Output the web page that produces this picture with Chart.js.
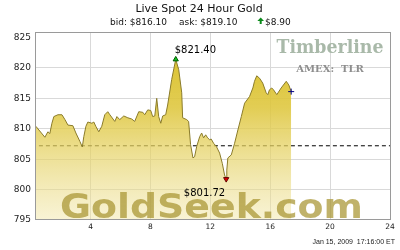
<!DOCTYPE html>
<html>
<head>
<meta charset="utf-8">
<title>Live Spot 24 Hour Gold</title>
<script src="https://cdn.jsdelivr.net/npm/chart.js@4/dist/chart.umd.min.js"></script>
<style>
    html, body { margin: 0; padding: 0; background: #fff; }
    #wrap { width: 400px; height: 250px; }
</style>
</head>
<body>
<div id="wrap"><canvas id="goldChart"></canvas></div>
<script>
// hours (ET) and spot price
var hours = [0.35, 0.95, 1.15, 1.28, 1.42, 1.55, 1.82, 2.09, 2.29, 2.49, 2.82, 3.02, 3.29, 3.45, 3.55,
    3.69, 3.82, 4.09, 4.22, 4.35, 4.55, 4.75, 4.95, 5.15, 5.29, 5.62, 5.76, 5.95, 6.22, 6.49, 6.75,
    6.95, 7.22, 7.49, 7.62, 7.82, 8.02, 8.15, 8.29, 8.42, 8.55, 8.69, 8.82, 9.02, 9.15, 9.42, 9.69,
    9.89, 10.09, 10.15, 10.42, 10.55, 10.68, 10.84, 10.95, 11.09, 11.29, 11.42, 11.55, 11.69, 11.82,
    11.95, 12.06, 12.22, 12.4, 12.62, 12.8, 12.95, 13.06, 13.1, 13.17, 13.4, 13.62, 13.84, 14.07,
    14.29, 14.62, 14.84, 14.95, 15.1, 15.29, 15.5, 15.73, 15.84, 15.95, 16.1, 16.22, 16.44, 16.73,
    17.07, 17.24, 17.4];
var prices = [810.4, 808.6, 809.5, 809.2, 810.9, 812.0, 812.3, 812.3, 811.5, 810.6, 810.5, 809.3, 807.9, 807.0, 808.7,
    810.4, 811.1, 810.9, 811.1, 810.4, 809.5, 810.4, 812.3, 812.8, 812.3, 811.2, 812.0, 811.5, 812.1, 811.8, 811.6,
    811.2, 812.8, 812.7, 812.3, 813.1, 813.0, 812.0, 812.1, 815.0, 812.0, 810.9, 812.1, 812.3, 813.9, 818.1, 821.4,
    819.7, 815.9, 811.8, 811.5, 811.2, 807.4, 805.2, 805.4, 807.1, 808.7, 809.3, 808.5, 809.0, 808.5,
    808.2, 808.3, 807.6, 807.1, 806.0, 804.3, 802.4, 801.72, 803.2, 805.2, 805.7, 807.6, 809.8, 812.0,
    814.2, 815.3, 816.7, 817.8, 818.7, 818.3, 817.5, 815.9, 815.6, 816.4, 816.7, 816.4, 815.6, 816.7,
    817.8, 817.2, 816.1];
var xTicks = [4, 8, 12, 16, 20, 24];
var yTicks = [795, 800, 805, 810, 815, 820, 825];
var prevClose = 807.2;
var bid = '$816.10';
var ask = '$819.10';
var change = '$8.90';
var stamp = 'Jan 15, 2009  17:16:00 ET';

var peakIdx = prices.indexOf(Math.max.apply(null, prices));
var lowIdx = prices.indexOf(Math.min.apply(null, prices));
var lastIdx = prices.length - 1;

var points = hours.map(function (h, i) { return { x: h, y: prices[i] }; });

function areaFill(context) {
    var area = context.chart.chartArea;
    if (!area) return 'rgba(220,196,50,0.8)';
    var g = context.chart.ctx.createLinearGradient(0, area.top, 0, area.bottom);
    g.addColorStop(0, 'rgba(214,186,20,0.95)');
    g.addColorStop(0.4, 'rgba(222,198,60,0.88)');
    g.addColorStop(1, 'rgba(240,228,160,0.45)');
    return g;
}

var extras = {
    id: 'goldExtras',
    afterDatasetsDraw: function (chart) {
        var ctx = chart.ctx;
        var a = chart.chartArea;
        var xs = chart.scales.x, ys = chart.scales.y;
        ctx.save();

        // watermarks
        ctx.textAlign = 'center';
        ctx.textBaseline = 'middle';
        ctx.fillStyle = '#a9b9a9';
        ctx.font = "bold 19px 'DejaVu Serif'";
        ctx.fillText('Timberline', 330, 48, 107);
        ctx.fillStyle = '#8e8e8e';
        ctx.font = "bold 10px 'DejaVu Serif'";
        ctx.fillText('AMEX:  TLR', 330, 69, 74);

        ctx.font = "bold 34px 'DejaVu Sans'";
        var w = ctx.measureText('GoldSeek.com').width;
        ctx.translate(60, 218);
        ctx.scale(303 / w, 1);
        ctx.textAlign = 'left';
        ctx.textBaseline = 'alphabetic';
        ctx.fillStyle = 'rgba(168,148,48,0.72)';
        ctx.fillText('GoldSeek.com', 0, 0);
        ctx.setTransform(1, 0, 0, 1, 0, 0);

        // plot frame
        ctx.strokeStyle = '#9a9a9a';
        ctx.lineWidth = 1;
        ctx.strokeRect(Math.round(a.left) + 0.5, Math.round(a.top) + 0.5,
            Math.round(a.right - a.left), Math.round(a.bottom - a.top) - 1);

        // high / low labels
        ctx.fillStyle = '#000';
        ctx.font = "10px 'DejaVu Sans'";
        var px = xs.getPixelForValue(hours[peakIdx]);
        var py = ys.getPixelForValue(prices[peakIdx]);
        ctx.textAlign = 'left';
        ctx.fillText('$' + prices[peakIdx].toFixed(2), px - 1, py - 6);
        var lx = xs.getPixelForValue(hours[lowIdx]);
        var ly = ys.getPixelForValue(prices[lowIdx]);
        ctx.textAlign = 'right';
        ctx.fillText('$' + prices[lowIdx].toFixed(2), lx - 1, ly + 17);
        ctx.restore();
    },
    afterDraw: function (chart) {
        var ctx = chart.ctx;
        ctx.save();
        ctx.fillStyle = '#111';
        ctx.textBaseline = 'middle';
        ctx.textAlign = 'center';
        ctx.font = "11px 'DejaVu Sans'";
        ctx.fillText('Live Spot 24 Hour Gold', 199, 9);

        ctx.textAlign = 'left';
        ctx.font = "9px 'DejaVu Sans'";
        ctx.fillText('bid: ' + bid, 110, 23);
        ctx.fillText('ask: ' + ask, 179, 23);
        ctx.fillText(change, 265, 23);

        // green up arrow
        ctx.fillStyle = '#0a8a1a';
        ctx.beginPath();
        ctx.moveTo(260.7, 17.5);
        ctx.lineTo(264, 21);
        ctx.lineTo(257.4, 21);
        ctx.closePath();
        ctx.fill();
        ctx.fillRect(259.7, 21, 2, 3);

        ctx.fillStyle = '#222';
        ctx.textAlign = 'right';
        ctx.font = "7px 'Liberation Sans'";
        ctx.fillText(stamp, 395, 242, 86);
        ctx.restore();
    }
};

var chart = new Chart(document.getElementById('goldChart').getContext('2d'), {
    type: 'line',
    data: {
        datasets: [{
            label: 'Gold',
            data: points,
            borderColor: '#8a7b2a',
            borderWidth: 1,
            backgroundColor: areaFill,
            fill: 'start',
            tension: 0,
            clip: false,
            pointRadius: function (c) {
                return (c.dataIndex === peakIdx || c.dataIndex === lowIdx || c.dataIndex === lastIdx) ? 3 : 0;
            },
            pointStyle: function (c) {
                return c.dataIndex === lastIdx ? 'cross' : 'triangle';
            },
            pointRotation: function (c) {
                return c.dataIndex === lowIdx ? 180 : 0;
            },
            pointBackgroundColor: function (c) {
                if (c.dataIndex === peakIdx) return '#10c020';
                if (c.dataIndex === lowIdx) return '#e00000';
                return '#000080';
            },
            pointBorderColor: function (c) {
                if (c.dataIndex === peakIdx) return '#005a00';
                if (c.dataIndex === lowIdx) return '#600000';
                return '#000080';
            },
            pointBorderWidth: 1
        }, {
            label: 'Previous close',
            data: [{ x: 0.55, y: prevClose }, { x: 24, y: prevClose }],
            borderColor: '#000',
            borderWidth: 1,
            borderDash: [4, 3],
            pointRadius: 0,
            fill: false
        }]
    },
    options: {
        responsive: true,
        maintainAspectRatio: false,
        animation: false,
        devicePixelRatio: 1,
        layout: { padding: { top: 32, right: 10, left: 0, bottom: 0 } },
        plugins: {
            legend: { display: false },
            tooltip: { enabled: false }
        },
        scales: {
            x: {
                type: 'linear',
                min: 0.29,
                max: 24,
                afterBuildTicks: function (scale) {
                    scale.ticks = xTicks.map(function (v) { return { value: v }; });
                },
                afterFit: function (scale) { scale.height = 30; },
                border: { display: false },
                grid: {
                    drawTicks: false,
                    color: function (c) { return c.tick && c.tick.value === 24 ? 'rgba(0,0,0,0)' : '#d9d9d9'; }
                },
                ticks: {
                    padding: 3,
                    maxRotation: 0,
                    color: '#222',
                    font: { family: 'DejaVu Sans', size: 7.5 }
                }
            },
            y: {
                min: 795,
                max: 825.9,
                afterBuildTicks: function (scale) {
                    scale.ticks = yTicks.map(function (v) { return { value: v }; });
                },
                afterFit: function (scale) { scale.width = 35; },
                border: { display: false },
                grid: {
                    drawTicks: false,
                    color: function (c) {
                        var v = c.tick && c.tick.value;
                        return (v === 795 || v === 825) ? 'rgba(0,0,0,0)' : '#d9d9d9';
                    }
                },
                ticks: {
                    padding: 4,
                    color: '#222',
                    font: { family: 'DejaVu Sans', size: 9 }
                }
            }
        }
    },
    plugins: [extras]
});
</script>
</body>
</html>
